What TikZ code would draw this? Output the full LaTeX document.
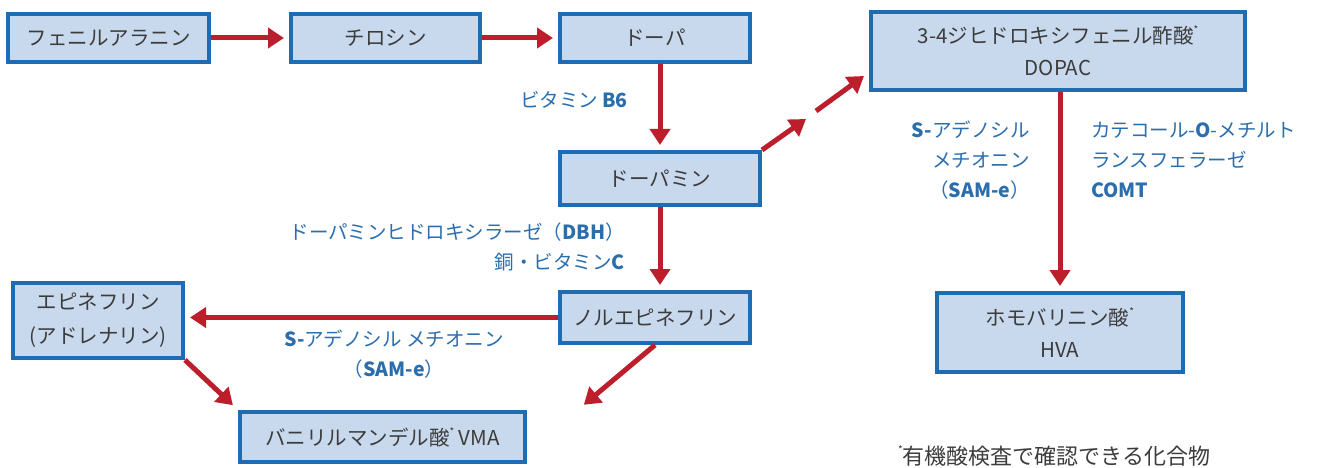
\documentclass[tikz,border=0pt]{standalone}
\usepackage{fontspec}
\setmainfont{Noto Sans CJK JP}
\usetikzlibrary{arrows.meta,calc}
\definecolor{boxfill}{HTML}{C8D9EE}
\definecolor{boxline}{HTML}{1F6CB3}
\definecolor{arr}{HTML}{BD1E2C}
\definecolor{lab}{HTML}{2B6EAE}
\definecolor{txt}{HTML}{3C3C3C}
\newcommand\supast{\raisebox{0.5em}{\fontsize{10}{10}\selectfont *}}
\begin{document}
\begin{tikzpicture}[x=1pt,y=-1pt,
 box/.style={draw=boxline, fill=boxfill, line width=4pt, inner sep=0pt, text=txt,
   font=\fontsize{20.5}{32}\selectfont, align=center},
 arrow/.style={draw=arr, line width=5pt, -{Triangle[length=16pt,width=20pt]}, shorten >=5pt},
 lbl/.style={text=lab, font=\fontsize{19.5}{30}\selectfont, inner sep=0pt}]
\useasboundingbox (0,0) rectangle (1322,468);
\fill[white] (0,0) rectangle (1322,468);

% boxes
\node[box, minimum width=201pt, minimum height=48pt] (phe) at (108.5,38) {フェニルアラニン};
\node[box, minimum width=189pt, minimum height=48pt] (tyr) at (385.5,38) {チロシン};
\node[box, minimum width=190pt, minimum height=48pt] (dopa) at (655,38) {ドーパ};
\node[box, minimum width=374pt, minimum height=78pt] (dopac) at (1058,51) {3-4ジヒドロキシフェニル酢酸\supast\\DOPAC};
\node[box, minimum width=200pt, minimum height=53pt] (dopamine) at (660,178.5) {ドーパミン};
\node[box, minimum width=190pt, minimum height=51pt] (ne) at (655,317.5) {ノルエピネフリン};
\node[box, minimum width=170pt, minimum height=75pt, font=\fontsize{20.5}{34}\selectfont] (epi) at (98,320.5) {エピネフリン\\(アドレナリン)};
\node[box, minimum width=285pt, minimum height=50pt] (vma) at (382.5,437) {バニリルマンデル酸\supast\ VMA};
\node[box, minimum width=246pt, minimum height=79pt] (hva) at (1060,332.5) {ホモバリニン酸\supast\\HVA};

% coordinates for free ends
\coordinate (mid1) at (806,119);
\coordinate (mid2) at (816,111);
\coordinate (dopacin) at (864,76);
\coordinate (vmain) at (580,408);

% arrows
\draw[arrow] (phe.east) -- (tyr.west);
\draw[arrow] (tyr.east) -- (dopa.west);
\draw[arrow] (dopamine.north |- dopa.south) -- (dopamine.north);
\draw[arrow] (dopamine.south) -- (dopamine.south |- ne.north);
\draw[arrow] (ne.west) -- (ne.west -| epi.east);
\draw[arrow, shorten >=7pt] (epi.south east) -- (vma.north west);
\draw[arrow] (ne.south) -- (vmain);
\draw[arrow, shorten >=0pt] (dopamine.north east) -- (mid1);
\draw[arrow, shorten >=0pt] (mid2) -- (dopacin);
\draw[arrow] (hva.north |- dopac.south) -- (hva.north);

% labels
\node[lbl, anchor=east] (lb6) at (628,100) {ビタミン \textbf{B6}};
\node[lbl, anchor=east, align=right] (ldbh) at (625,247) {ドーパミンヒドロキシラーゼ（\textbf{DBH}）\\銅・ビタミン\textbf{C}};
\node[lbl, align=center] (lsam) at (394,354) {\textbf{S-}アデノシル メチオニン\\（\textbf{SAM-e}）};
\node[lbl, anchor=east, align=right] (lsam2) at (1030,160) {\textbf{S-}アデノシル\\メチオニン\\（\textbf{SAM-e}）};
\node[lbl, anchor=west, align=left] (lcomt) at (1091,160) {カテコール-\textbf{O}-メチルト\\ランスフェラーゼ\\\textbf{COMT}};
\node[text=txt, font=\fontsize{22}{26}\selectfont, anchor=west, inner sep=0pt] (note) at (898,456) {\supast 有機酸検査で確認できる化合物};
\end{tikzpicture}
\end{document}
